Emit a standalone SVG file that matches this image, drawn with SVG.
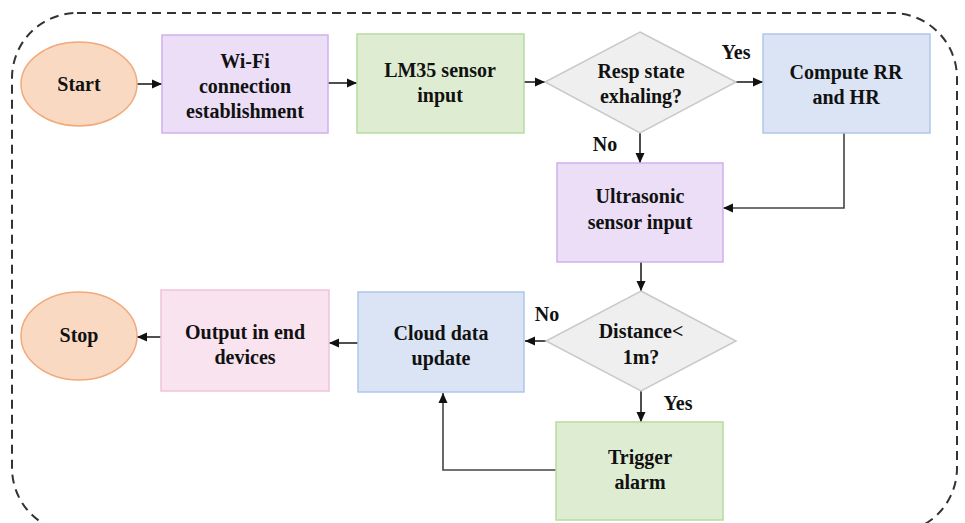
<svg xmlns="http://www.w3.org/2000/svg" width="965" height="523" viewBox="0 0 965 523">
<style>
text{font-family:'Liberation Serif',Tinos,'Times New Roman','DejaVu Serif',serif;font-weight:bold;font-size:20px;fill:#111;text-anchor:middle}
.conn{fill:none;stroke:#222;stroke-width:1.6}
.term{fill:#fad9c3;stroke:#f0ab7c;stroke-width:1.5}
.purple{fill:#ebdef6;stroke:#cfb1ec;stroke-width:1.5}
.green{fill:#deedd2;stroke:#b7dba0;stroke-width:1.5}
.blue{fill:#dbe4f4;stroke:#afc6ea;stroke-width:1.5}
.pink{fill:#f8e3ef;stroke:#f1c3dc;stroke-width:1.5}
.dec{fill:#efefef;stroke:#c9c9c9;stroke-width:1.5}
</style>
<defs>
<marker id="ah" viewBox="0 0 10 10" refX="10" refY="5" markerWidth="10" markerHeight="10" markerUnits="userSpaceOnUse" orient="auto">
<path d="M0,0.5 L10,5 L0,9.5 Z" fill="#111"/>
</marker>
</defs>
<rect x="12" y="13" width="945" height="520" rx="65" ry="65" fill="none" stroke="#333" stroke-width="2" stroke-dasharray="9 6"/>
<g id="connectors">
<line class="conn" x1="137" y1="84" x2="162" y2="84" marker-end="url(#ah)"/>
<line class="conn" x1="328" y1="83" x2="357" y2="83" marker-end="url(#ah)"/>
<line class="conn" x1="524" y1="82" x2="545" y2="82" marker-end="url(#ah)"/>
<line class="conn" x1="736" y1="82" x2="763" y2="82" marker-end="url(#ah)"/>
<line class="conn" x1="640" y1="133" x2="640" y2="163" marker-end="url(#ah)"/>
<polyline class="conn" points="844,133 844,208 723,208" marker-end="url(#ah)" style="stroke:#444"/>
<line class="conn" x1="641" y1="262" x2="641" y2="291" marker-end="url(#ah)"/>
<line class="conn" x1="546" y1="341" x2="525" y2="341" marker-end="url(#ah)"/>
<line class="conn" x1="641" y1="391" x2="641" y2="422" marker-end="url(#ah)"/>
<polyline class="conn" points="556,470 443,470 443,393" marker-end="url(#ah)" style="stroke:#444"/>
<line class="conn" x1="358" y1="343" x2="329" y2="343" marker-end="url(#ah)"/>
<line class="conn" x1="161" y1="337" x2="137" y2="337" marker-end="url(#ah)"/>
<text x="736" y="59">Yes</text>
<text x="605" y="151">No</text>
<text x="547" y="321">No</text>
<text x="678" y="410">Yes</text>
</g>
<g id="start"><ellipse class="term" cx="79" cy="84" rx="58" ry="42"/><text x="79" y="91">Start</text></g>
<g id="wifi"><rect class="purple" x="162" y="35" width="166" height="98"/><text x="245" y="68">Wi-Fi</text><text x="245" y="93">connection</text><text x="245" y="118">establishment</text></g>
<g id="lm35"><rect class="green" x="357" y="34" width="167" height="99"/><text x="440" y="77">LM35 sensor</text><text x="440" y="102">input</text></g>
<g id="resp"><polygon class="dec" points="640,32 736,82 640,133 545,82"/><text x="641" y="78">Resp state</text><text x="641" y="103">exhaling?</text></g>
<g id="compute"><rect class="blue" x="763" y="34" width="167" height="99"/><text x="846" y="79">Compute RR</text><text x="846" y="104">and HR</text></g>
<g id="ultrasonic"><rect class="purple" x="557" y="163" width="166" height="99"/><text x="640" y="203">Ultrasonic</text><text x="640" y="229">sensor input</text></g>
<g id="distance"><polygon class="dec" points="641,291 736,341 641,391 546,341"/><text x="641" y="338">Distance&lt;</text><text x="641" y="364">1m?</text></g>
<g id="cloud"><rect class="blue" x="358" y="292" width="166" height="100"/><text x="441" y="340">Cloud data</text><text x="441" y="365">update</text></g>
<g id="output"><rect class="pink" x="161" y="290" width="168" height="101"/><text x="245" y="339">Output in end</text><text x="245" y="364">devices</text></g>
<g id="stop"><ellipse class="term" cx="79" cy="336" rx="58" ry="44"/><text x="79" y="342">Stop</text></g>
<g id="trigger"><rect class="green" x="556" y="422" width="167" height="98"/><text x="640" y="464">Trigger</text><text x="640" y="489">alarm</text></g>
</svg>
